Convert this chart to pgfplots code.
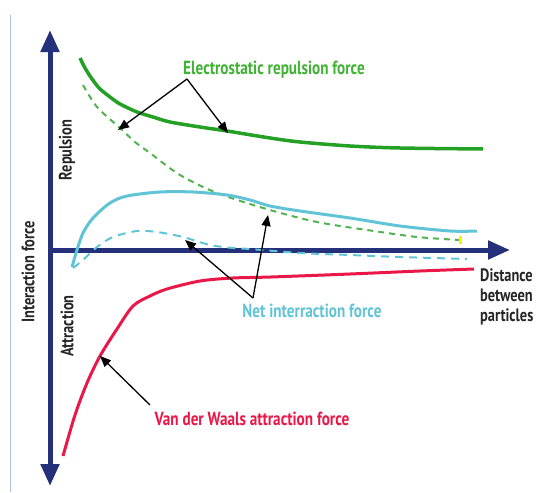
\documentclass[border=0pt]{standalone}
\usepackage{pgfplots}
\pgfplotsset{compat=1.18}
\usetikzlibrary{arrows.meta}
\usepackage{fontspec}
\setmainfont{PT Sans}[FakeStretch=0.8]
\definecolor{navy}{RGB}{36,48,122}
\definecolor{repgreen}{RGB}{36,160,36}
\definecolor{txtgreen}{RGB}{64,178,52}
\definecolor{netcyan}{RGB}{96,196,214}
\definecolor{vdwred}{RGB}{234,24,72}
\definecolor{frameblue}{RGB}{172,192,232}

\begin{document}
\begin{tikzpicture}
\begin{axis}[
    width=542pt, height=492pt, scale only axis,
    xmin=0, xmax=542, ymin=0, ymax=492,
    y dir=reverse,
    hide axis, clip=false,
    font=\bfseries,
]
\path (axis cs:0,0) rectangle (axis cs:542,492);
% frame line
\draw[frameblue, line width=1pt] (axis cs:10,15) -- (axis cs:10,492);

% axes
\draw[navy, line width=5pt, {Triangle[width=18pt,length=22pt]}-{Triangle[width=18pt,length=22pt]}]
    (axis cs:50,486) -- (axis cs:50,30);
\draw[navy, line width=5pt, -{Triangle[width=18pt,length=22pt]}]
    (axis cs:48,250) -- (axis cs:510,250);

% electrostatic repulsion (solid)
\addplot[repgreen, line width=3.5pt, smooth] coordinates {
 (80,58) (85,68) (90,76) (95,83) (100,89) (110,97) (120,104) (137,112) (153,117)
 (170,122) (200,127) (227,131) (270,138) (300,142) (350,146) (400,148) (483,149)};
% repulsion (dashed)
\addplot[repgreen!80!white, line width=2pt, dash pattern=on 6pt off 5pt, smooth] coordinates {
 (83,85) (97,107) (120,128) (135,142) (150,153) (180,175) (217,193) (270,210)
 (317,222) (367,230) (417,237) (460,240)};
\addplot[yellow, only marks, mark=|, mark size=4pt, line width=3pt] coordinates {(460,240)};

% net interaction (solid)
\addplot[netcyan, line width=3pt, smooth] coordinates {
 (72,267) (77,250) (83,233) (93,218) (110,203) (127,196) (160,192) (193,192)
 (227,195) (250,200) (270,206) (300,211) (350,218) (400,226) (450,231) (477,231)};
% net interaction (dashed)
\addplot[netcyan, line width=2pt, dash pattern=on 8pt off 6pt, smooth] coordinates {
 (73,268) (83,260) (97,247) (113,237) (137,231) (157,232) (183,237) (210,245)
 (233,248) (250,249) (300,253) (350,255) (400,257) (467,259)};

% van der Waals attraction
\addplot[vdwred, line width=3pt, smooth] coordinates {
 (63,456) (75,415) (87,383) (100,356) (117,329) (133,306) (150,296) (167,289)
 (200,281) (233,278) (271,277) (350,274) (420,271) (474,269)};

% pointer arrows
\draw[black, line width=1.3pt, -{Triangle[width=9pt,length=11pt]}] (axis cs:187,79) -- (axis cs:118,130);
\draw[black, line width=1.3pt, -{Triangle[width=9pt,length=11pt]}] (axis cs:187,79) -- (axis cs:228,133);
\draw[black, line width=1.3pt, -{Triangle[width=9pt,length=11pt]}] (axis cs:253,298) -- (axis cs:185,240);
\draw[black, line width=1.3pt, -{Triangle[width=9pt,length=11pt]}] (axis cs:253,298) -- (axis cs:268,215);
\draw[black, line width=1.3pt, -{Triangle[width=9pt,length=11pt]}] (axis cs:150,405) -- (axis cs:100,356);

% labels
\node[txtgreen, font=\fontsize{19}{21}\selectfont\bfseries] at (axis cs:274,70) {Electrostatic repulsion force};
\node[netcyan, font=\fontsize{19}{21}\selectfont\bfseries] at (axis cs:312,311) {Net interraction force};
\node[vdwred, font=\fontsize{19}{21}\selectfont\bfseries] at (axis cs:252,419) {Van der Waals attraction force};
\node[black!85, rotate=90, font=\fontsize{18}{20}\selectfont\bfseries] at (axis cs:67,150) {Repulsion};
\node[black!85, rotate=90, font=\fontsize{18}{20}\selectfont\bfseries] at (axis cs:67,326) {Attraction};
\node[black!85, rotate=90, font=\fontsize{18}{20}\selectfont\bfseries] at (axis cs:28,272) {Interaction force};
\node[black!85, anchor=north west, align=left, inner sep=0pt, font=\fontsize{18}{20}\selectfont\bfseries] at (axis cs:480,269) {Distance\\between\\particles};
\end{axis}
\end{tikzpicture}
\end{document}
